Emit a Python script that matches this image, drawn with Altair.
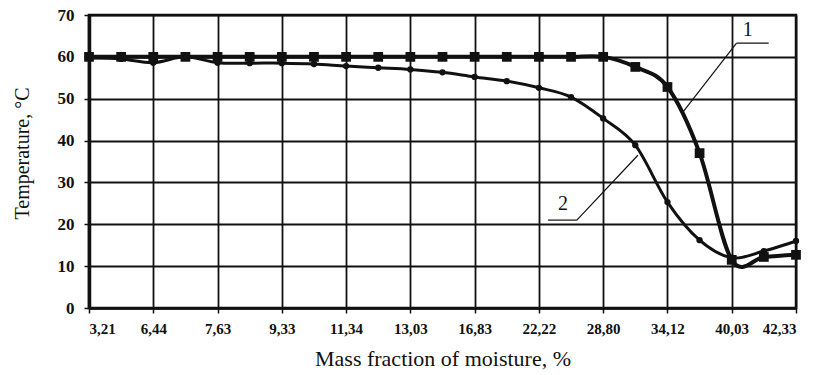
import json
import altair as alt
import pandas as pd

# Category labels shown on the x axis (every other measurement point)
x_labels = ["3,21", "6,44", "7,63", "9,33", "11,34", "13,03",
            "16,83", "22,22", "28,80", "34,12", "40,03", "42,33"]

# measurement point index (23 points, labels at every second one)
point_index = list(range(23))

# Curve 1 (squares)
curve1 = [60.0, 60.0, 60.0, 60.0, 60.0, 60.0, 60.0, 60.0, 60.0, 60.0, 60.0, 60.0,
          60.0, 60.0, 60.0, 60.0, 60.0, 57.6, 52.8, 37.0, 11.5, 12.2, 12.7]
# Curve 2 (circles)
curve2 = [59.7, 59.5, 58.6, 60.0, 58.6, 58.5, 58.5, 58.3, 57.8, 57.4, 57.0, 56.3,
          55.2, 54.2, 52.6, 50.4, 45.3, 38.9, 25.3, 16.2, 12.0, 13.6, 16.0]

# annotation labels and their leader lines (data coordinates)
ann_text = ["1", "2"]
ann_text_x = [20.5, 14.75]
ann_text_y = [64.0, 22.4]
seg_x = [20.15, 20.15, 14.28, 15.18]
seg_y = [63.3, 63.3, 21.0, 21.0]
seg_x2 = [21.15, 18.48, 15.18, 17.08]
seg_y2 = [63.3, 46.8, 21.0, 36.5]

ink = "#111111"
serif = "Liberation Serif"

df1 = pd.DataFrame({"i": point_index, "t": curve1})
df2 = pd.DataFrame({"i": point_index, "t": curve2})
seg = pd.DataFrame({"x": seg_x, "y": seg_y, "x2": seg_x2, "y2": seg_y2})
ann = pd.DataFrame({"x": ann_text_x, "y": ann_text_y, "label": ann_text})

label_expr = json.dumps(x_labels) + "[round(datum.value / 2)]"

xscale = alt.Scale(domain=[0, 22], nice=False, zero=False)
yscale = alt.Scale(domain=[0, 70], nice=False)

xaxis = alt.Axis(values=list(range(0, 23, 2)), labelExpr=label_expr,
                 title="Mass fraction of moisture, %",
                 labelFont=serif, labelFontSize=15, labelFontWeight="bold",
                 labelColor=ink, labelPadding=8,
                 titleFont=serif, titleFontSize=22, titleFontWeight="normal",
                 titleColor=ink, titleY=50, titleBaseline="middle",
                 grid=True, gridColor=ink, gridWidth=1.8,
                 domainColor=ink, domainWidth=2.5,
                 tickColor=ink, tickSize=5, tickWidth=1.5)
yaxis = alt.Axis(values=list(range(0, 71, 10)), title="Temperature, °C",
                 labelFont=serif, labelFontSize=17, labelFontWeight="bold",
                 labelColor=ink, labelPadding=10,
                 titleFont=serif, titleFontSize=20, titleFontWeight="normal",
                 titleColor=ink, titleX=-67, titleY=138, titleAngle=-90,
                 titleBaseline="middle", titleAlign="center",
                 grid=True, gridColor=ink, gridWidth=1.8,
                 domainColor=ink, domainWidth=3.5,
                 tickColor=ink, tickSize=5, tickWidth=1.5)

x = alt.X("i:Q", scale=xscale, axis=xaxis)
y = alt.Y("t:Q", scale=yscale, axis=yaxis)

line1 = alt.Chart(df1).mark_line(color=ink, strokeWidth=4, interpolate="cardinal",
                                 tension=0).encode(x=x, y=y)
pts1 = alt.Chart(df1).mark_point(shape="square", filled=True, color=ink, size=95,
                                 opacity=1).encode(x="i:Q", y="t:Q")
line2 = alt.Chart(df2).mark_line(color=ink, strokeWidth=3, interpolate="cardinal",
                                 tension=0).encode(x="i:Q", y="t:Q")
pts2 = alt.Chart(df2).mark_point(shape="circle", filled=True, color=ink, size=40,
                                 opacity=1).encode(x="i:Q", y="t:Q")

leaders = alt.Chart(seg).mark_rule(color=ink, strokeWidth=1.2).encode(
    x="x:Q", y="y:Q", x2="x2:Q", y2="y2:Q")
labels = alt.Chart(ann).mark_text(font=serif, fontSize=20, color=ink,
                                  baseline="bottom", align="center").encode(
    x="x:Q", y="y:Q", text="label:N")

chart = alt.layer(line2, line1, pts2, pts1, leaders, labels).properties(
    width=707, height=293,
    autosize=alt.AutoSizeParams(type="none"),
    padding={"left": 89, "top": 15, "right": 21, "bottom": 67},
    background="white",
).configure_view(stroke=ink, strokeWidth=2.5)

chart.save("out.html", embed_options={"renderer": "svg", "actions": False})
